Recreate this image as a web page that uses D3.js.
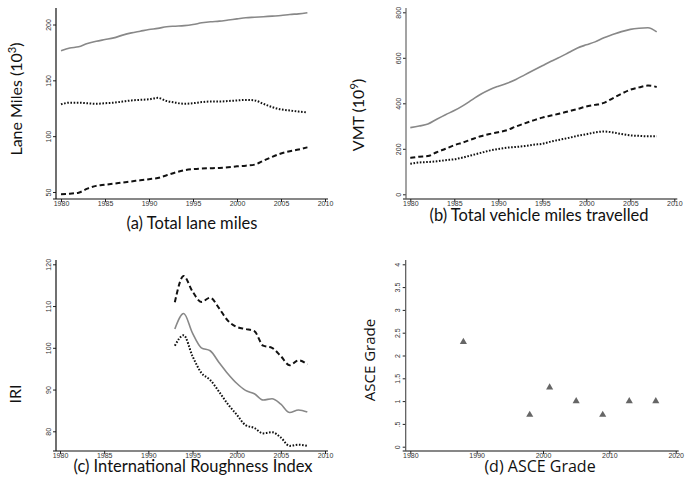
<!DOCTYPE html>
<html>
<head>
<style type="text/css">
  body { margin: 0; background: #fff; }
  svg { display: block; }
  .tick text { font-family: "Liberation Sans", Arial, sans-serif; font-size: 7px; fill: #333; }
  .ytitle, .caption { font-family: Lato, "DejaVu Sans", sans-serif; fill: #111; }
</style>
</head>
<body>
<svg></svg>
<script src="https://d3js.org/d3.v7.min.js"></script>
<script>
var width = 686;
var height = 480;

// (a) and (b) years
var years = d3.range(1980, 2009);
// (a) lane miles, thousands
var laneSolid = [176.5,179,180,183,185,186.5,188,190.5,192.5,194,195.5,196.5,198,198.5,199,200,201.5,202.5,203,204,205,206,206.5,207,207.5,208,209,209.5,210.5];
var laneDotted = [128.5,130,130,129.5,129,129.5,130,131,132,132.5,133,134.3,131.5,130,129,129.5,130.5,131,131,131.5,132,132.5,132,129,126,124,123,122,121.3];
var laneDashed = [48,48.5,49.4,53,55.5,56.5,57.5,58.5,59.5,60.5,61.5,62.5,65,67.5,69.5,70.5,71,71.3,71.6,72.2,73,73.6,74.5,78,81.5,84.5,86.5,88,90];
// (b) VMT, billions
var vmtSolid = [293,300,309,330,350,368,390,415,440,460,475,488,505,525,545,565,585,603,623,643,657,670,688,702,715,725,730,732,714];
var vmtDashed = [160,165,168,185,200,216,228,242,255,265,273,282,298,312,325,337,346,355,365,375,386,393,402,422,442,460,470,478,472];
var vmtDotted = [134,140,142,145,150,154,162,172,182,192,199,205,208,212,218,222,232,240,248,257,264,272,276,272,265,259,257,255,255];
// (c) IRI
var iriYears = d3.range(1993, 2009);
var iriDashed = [110.9,117.2,113.5,111,112,109.5,106.5,105,104.5,104,100.5,100,98,95.8,97,96];
var iriSolid = [104.5,108.2,103.5,100,99.3,96.5,93.8,91.5,89.8,89,87.5,87.8,86.5,84.5,85.1,84.6];
var iriDotted = [100.5,103,98,94,92.3,89.5,86.5,84,81.5,80.8,79.5,79.8,78.5,76.5,76.8,76.5];
// (d) ASCE grade
var asceYears = [1988, 1998, 2001, 2005, 2009, 2013, 2017];
var asceGrades = [2.3, 0.7, 1.3, 1, 0.7, 1, 1];

var svg = d3.select('svg').attr('width', width).attr('height', height);

var styles = {
  solid: { stroke: '#888', width: 1.6, dash: null },
  dashed: { stroke: '#111', width: 2, dash: '5,3' },
  dotted: { stroke: '#111', width: 2, dash: '1.6,1.6' }
};

function panel(o) {
  var g = svg.append('g');
  var x = d3.scaleLinear().domain(o.xDomain).range(o.xRange);
  var y = d3.scaleLinear().domain(o.yDomain).range(o.yRange);

  var xAxis = g.append('g')
    .attr('transform', 'translate(0,' + o.axisY + ')')
    .call(d3.axisBottom(x).tickValues(o.xTicks).tickFormat(d3.format('d')).tickSize(3).tickSizeOuter(0));
  xAxis.select('.domain').remove();
  xAxis.selectAll('.tick line').attr('stroke', '#222');
  xAxis.selectAll('.tick text').attr('dy', '0.5em').attr('y', 3.5);
  g.append('line')
    .attr('x1', o.axisX - 3).attr('x2', o.xRange[1] + 3)
    .attr('y1', o.axisY).attr('y2', o.axisY)
    .attr('stroke', '#111').attr('stroke-width', 1.2);

  var yAxis = g.append('g')
    .attr('transform', 'translate(' + o.axisX + ',0)')
    .call(d3.axisLeft(y).tickValues(o.yTicks).tickFormat(o.yFormat || d3.format('d')).tickSize(3).tickSizeOuter(0));
  yAxis.select('.domain').remove();
  yAxis.selectAll('.tick line').attr('stroke', '#222');
  yAxis.selectAll('.tick text')
    .attr('x', 0).attr('dy', 0)
    .attr('text-anchor', 'middle')
    .attr('transform', 'translate(-5.5,0) rotate(-90)');
  g.append('line')
    .attr('x1', o.axisX).attr('x2', o.axisX)
    .attr('y1', o.axisTop).attr('y2', o.axisY)
    .attr('stroke', o.yAxisColor).attr('stroke-width', 1.2);

  (o.series || []).forEach(function(s) {
    var st = styles[s.style];
    var line = d3.line()
      .x(function(d, i) { return x(s.years[i]); })
      .y(function(d) { return y(d); })
      .curve(d3.curveMonotoneX);
    g.append('path')
      .datum(s.values)
      .attr('d', line)
      .attr('fill', 'none')
      .attr('stroke', st.stroke)
      .attr('stroke-width', st.width)
      .attr('stroke-dasharray', st.dash);
  });

  if (o.points) {
    g.selectAll('path.pt')
      .data(o.points.values)
      .enter().append('path')
      .attr('class', 'pt')
      .attr('d', d3.symbol().type(d3.symbolTriangle).size(22))
      .attr('transform', function(d, i) { return 'translate(' + x(o.points.years[i]) + ',' + y(d) + ')'; })
      .attr('fill', '#666');
  }

  var yt = g.append('text')
    .attr('class', 'ytitle')
    .attr('transform', 'translate(' + o.titleX + ',' + o.titleY + ') rotate(-90)')
    .attr('text-anchor', 'middle')
    .attr('font-size', o.titleSize || 16)
    .style('font-family', o.titleFont || null);
  yt.text(o.yTitle);
  if (o.yTitleSup) {
    yt.append('tspan').text(' (10');
    yt.append('tspan').attr('baseline-shift', 'super').attr('font-size', '70%').text(o.yTitleSup);
    yt.append('tspan').text(')');
  }

  g.append('text')
    .attr('class', 'caption')
    .attr('x', o.capX).attr('y', o.capY)
    .attr('text-anchor', 'middle')
    .attr('font-size', o.capSize || 16.5)
    .style('font-family', o.capFont || null)
    .text(o.caption);
}

panel({
  xDomain: [1980, 2010], xRange: [61, 325], xTicks: d3.range(1980, 2011, 5),
  yDomain: [50, 200], yRange: [192, 24.5], yTicks: [50, 100, 150, 200],
  axisX: 56, axisY: 199, axisTop: 8, yAxisColor: '#111',
  series: [
    { years: years, values: laneSolid, style: 'solid' },
    { years: years, values: laneDotted, style: 'dotted' },
    { years: years, values: laneDashed, style: 'dashed' }
  ],
  yTitle: 'Lane Miles', yTitleSup: '3', titleX: 22, titleY: 99,
  caption: '(a) Total lane miles', capX: 192, capY: 229
});

panel({
  xDomain: [1980, 2010], xRange: [410.3, 674.3], xTicks: d3.range(1980, 2011, 5),
  yDomain: [0, 800], yRange: [194.3, 12.3], yTicks: [0, 200, 400, 600, 800],
  axisX: 406, axisY: 199, axisTop: 8, yAxisColor: '#666',
  series: [
    { years: years, values: vmtSolid, style: 'solid' },
    { years: years, values: vmtDashed, style: 'dashed' },
    { years: years, values: vmtDotted, style: 'dotted' }
  ],
  yTitle: 'VMT', yTitleSup: '9', titleX: 364, titleY: 115,
  caption: '(b) Total vehicle miles travelled', capX: 539, capY: 221
});

panel({
  xDomain: [1980, 2010], xRange: [60, 325], xTicks: d3.range(1980, 2011, 5),
  yDomain: [80, 120], yRange: [431.3, 264.3], yTicks: [80, 90, 100, 110, 120],
  axisX: 56, axisY: 451, axisTop: 260, yAxisColor: '#111',
  series: [
    { years: iriYears, values: iriDashed, style: 'dashed' },
    { years: iriYears, values: iriSolid, style: 'solid' },
    { years: iriYears, values: iriDotted, style: 'dotted' }
  ],
  yTitle: 'IRI', titleX: 21, titleY: 394,
  caption: '(c) International Roughness Index', capX: 193, capY: 472
});

panel({
  xDomain: [1980, 2020], xRange: [410.3, 675.7], xTicks: d3.range(1980, 2021, 10),
  yDomain: [0, 4], yRange: [446.7, 264.3], yTicks: d3.range(0, 4.01, 0.5),
  yFormat: function(d) { return d === 0 ? '0' : (d < 1 ? '.5' : String(d)); },
  axisX: 405.7, axisY: 451, axisTop: 260, yAxisColor: '#555',
  points: { years: asceYears, values: asceGrades },
  yTitle: 'ASCE Grade', titleX: 375, titleY: 360, titleSize: 15, titleFont: '"Open Sans", sans-serif',
  caption: '(d) ASCE Grade', capX: 540, capY: 472, capSize: 16, capFont: '"Open Sans", sans-serif'
});
</script>
</body>
</html>
